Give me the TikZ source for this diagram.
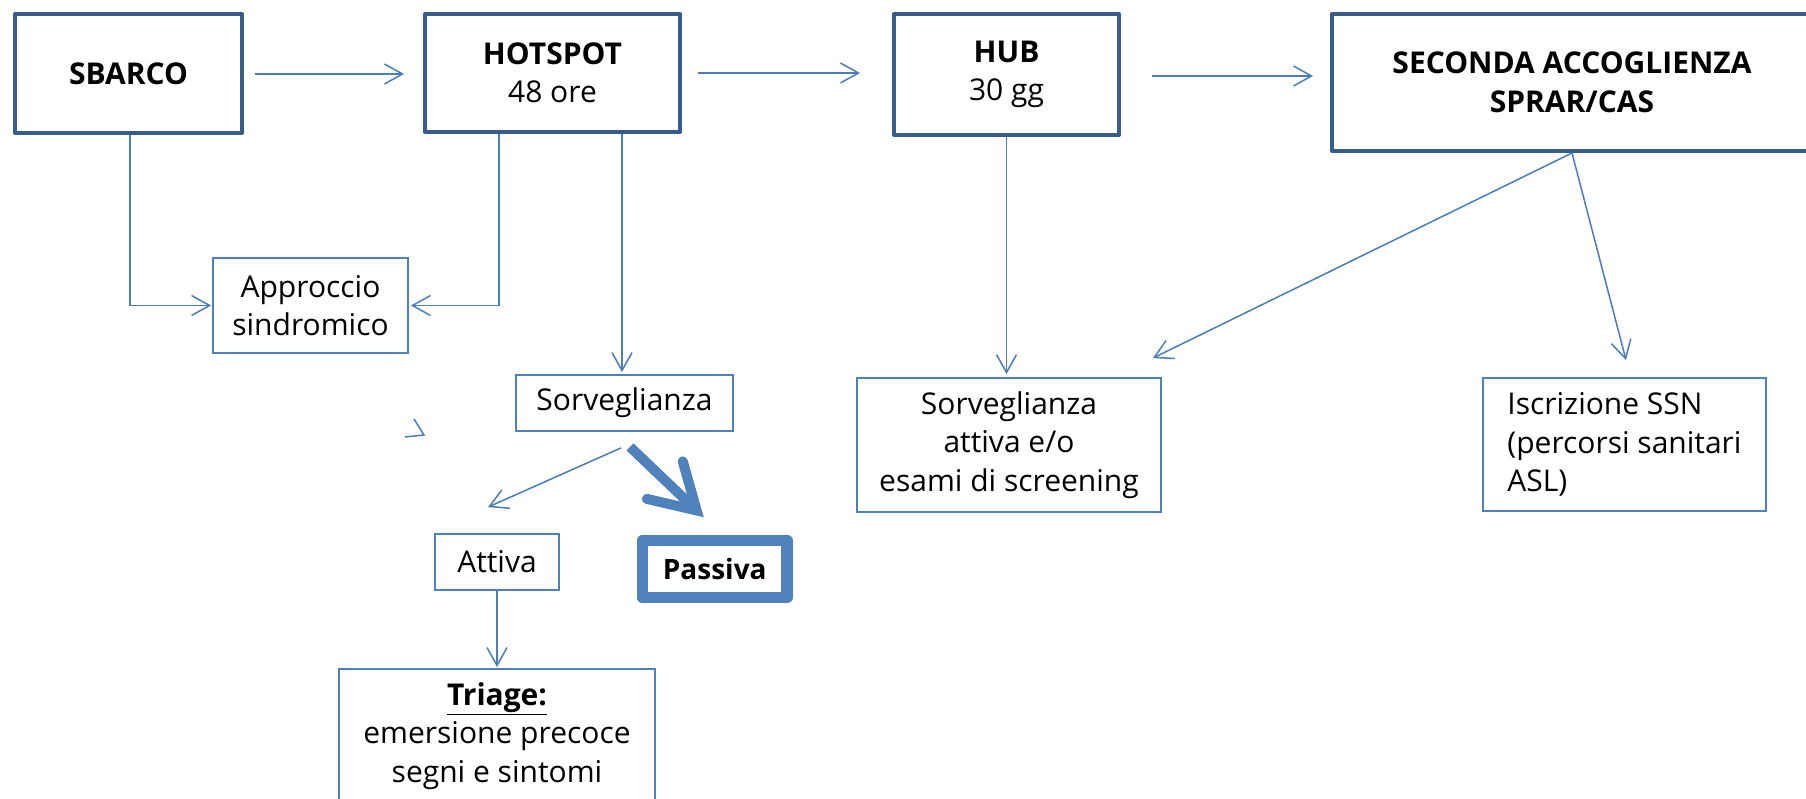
\documentclass[tikz,border=0pt]{standalone}
\usepackage{fontspec}
\setmainfont{Open Sans}
\usetikzlibrary{arrows.meta}
\definecolor{boxdark}{HTML}{385D8A}
\definecolor{lineblue}{HTML}{4A7EBB}
\definecolor{accent}{HTML}{4F81BD}
\newcommand\mytxt{\fontsize{30}{38.5}\selectfont}
\tikzset{
  topbox/.style={draw=boxdark, line width=4pt, fill=white, font=\mytxt, align=center, inner sep=0pt, line join=round},
  thinbox/.style={draw=accent, line width=1.8pt, fill=white, font=\mytxt, align=center, inner sep=0pt},
  txt/.style={font=\mytxt, align=center, inner sep=0pt},
  conn/.style={draw=lineblue, line width=1.5pt, -{Straight Barb[length=18pt,width=20pt]}},
  bigarrow/.style={draw=accent, line width=10pt, -{Straight Barb[length=44pt,width=52pt,line cap=round]}}
}
\begin{document}
\begin{tikzpicture}[x=1pt,y=-1pt]
\path[use as bounding box, fill=white] (0,0) rectangle (1806,799);
\clip (0,0) rectangle (1806,799);

% top row
\node[topbox, minimum width=227pt, minimum height=119pt] (sbarco) at (128.5,73.5) {\bfseries SBARCO};
\node[topbox, minimum width=255pt, minimum height=118pt] (hotspot) at (552.5,73) {\bfseries HOTSPOT\\48 ore};
\node[topbox, minimum width=225pt, minimum height=121pt] (hub) at (1006.5,74.5) {\bfseries HUB\\30 gg};
\node[topbox, minimum width=480pt, minimum height=137pt] (seconda) at (1572,82.5) {\bfseries SECONDA ACCOGLIENZA\\\bfseries SPRAR/CAS};

% lower boxes
\node[thinbox, minimum width=195pt, minimum height=95pt] (approccio) at (310.5,305.5) {Approccio\\sindromico};
\node[thinbox, minimum width=217pt, minimum height=56pt] (sorv) at (624.5,403) {Sorveglianza};
\node[thinbox, minimum width=124pt, minimum height=56pt] (attiva) at (497,562) {Attiva};
\node[draw=accent, line width=11.5pt, line join=round, fill=white, font=\mytxt, inner sep=0pt,
      minimum width=144.5pt, minimum height=57pt] (passiva) at (714.75,569) {\fontsize{28}{34}\selectfont\bfseries Passiva};
\node[thinbox, minimum width=316pt, minimum height=161pt] (triage) at (497,749.5) {};
\node[txt] (triagetxt) at (497,736) {\bfseries\underline{Triage:}\\emersione precoce\\segni e sintomi};
\node[thinbox, minimum width=304pt, minimum height=134pt] (sorvatt) at (1009,445) {Sorveglianza\\attiva e/o\\esami di screening};
\node[thinbox, align=left, minimum width=283pt, minimum height=133pt] (iscr) at (1624.5,444.5) {Iscrizione SSN\\(percorsi sanitari\\ASL)};

% top horizontal connectors
\draw[conn, shorten <=11pt, shorten >=19pt] ([yshift=-0.5]sbarco.east) -- ([yshift=-0.5]sbarco.east -| hotspot.west);
\draw[conn, shorten <=16pt, shorten >=32pt] (hotspot.east) -- (hotspot.east -| hub.west);
\draw[conn, shorten <=31pt, shorten >=17pt] ([yshift=-1.5]hub.east) -- ([yshift=-1.5]hub.east -| seconda.west);

% to Approccio
\draw[conn, shorten >=1pt] ([xshift=1.5]sbarco.south) |- (approccio.west);
\draw[conn, shorten >=2pt] ([xshift=-53.5]hotspot.south) |- (approccio.east);

% to Sorveglianza
\draw[conn, shorten >=2pt] ([xshift=69.5]hotspot.south) -- ([xshift=69.5]hotspot.south |- sorv.north);

% from Sorveglianza
\draw[conn] ([shift={(-3.5,16)}]sorv.south) -- ([shift={(-9,-26)}]attiva.north);
\draw[bigarrow] ([shift={(5.5,15)}]sorv.south) -- ([shift={(-11,-17.5)}]passiva.north);

% Attiva to Triage
\draw[conn, shorten >=1pt] (attiva.south) -- (triage.north);

% HUB down
\draw[conn, shorten >=3pt] (hub.south) -- (hub.south |- sorvatt.north);

% SECONDA diagonals
\draw[conn] (seconda.south) -- ([shift={(-9,-19)}]sorvatt.north east);
\draw[conn] (seconda.south) -- ([shift={(1.5,-17)}]iscr.north);

% stray arrow tip
\draw[draw=lineblue, line width=1.5pt] (414,419) -- (424,435) -- (405,437);
\end{tikzpicture}
\end{document}
